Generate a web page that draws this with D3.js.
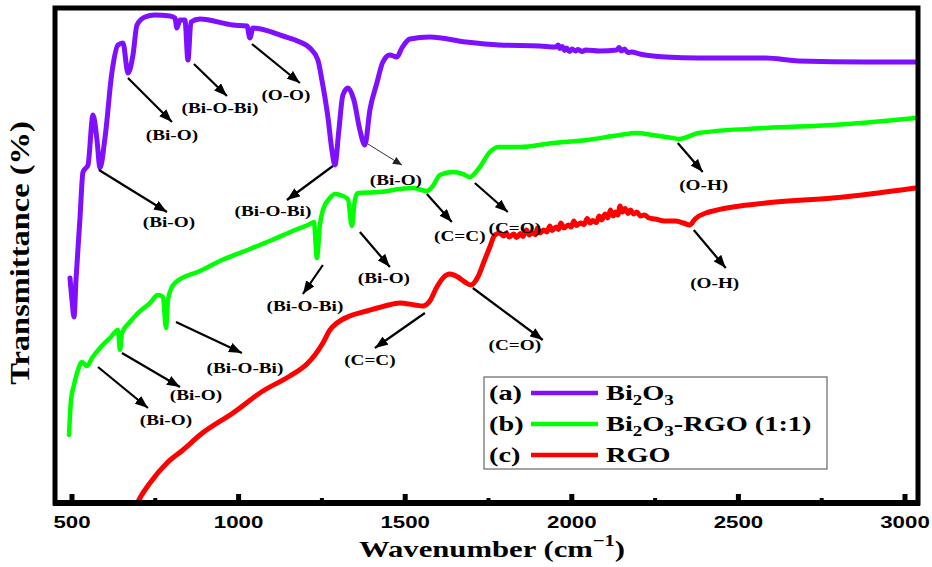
<!DOCTYPE html>
<html>
<head>
<meta charset="utf-8">
<script src="https://cdn.jsdelivr.net/npm/d3@7"></script>
<style>
  body { margin: 0; background: #fff; }
  svg { display: block; }
</style>
</head>
<body>
<svg id="chart" width="932" height="567"></svg>
<script>
// FTIR spectra: [wavenumber (cm^-1), transmittance (arb. %)]
const bi2o3 = [
  [494,45.0],[500,40.6],[506,37.2],[512,44.6],[524,57.0],[533,66.2],[548,67.6],[563,77.6],
  [575,72.6],[584,67.0],[599,73.0],[620,86.2],[638,91.6],[653,92.0],[668,86.0],[683,89.6],
  [695,95.6],[719,97.2],[749,97.6],[794,97.4],[809,97.0],[815,95.0],[824,96.6],[839,96.6],
  [848,88.6],[857,96.2],[884,96.8],[983,95.6],[1025,95.4],[1034,93.0],[1043,95.0],[1133,93.4],
  [1184,92.2],[1214,91.0],[1238,88.6],[1250,84.6],[1268,77.2],[1280,70.6],[1289,67.6],[1301,74.6],
  [1313,81.6],[1328,83.0],[1346,80.6],[1364,74.6],[1379,71.6],[1394,78.6],[1415,84.0],[1433,88.2],
  [1454,89.6],[1475,89.2],[1490,91.0],[1514,92.8],[1574,93.2],[1682,92.2],[1781,91.6],[1904,91.4],
  [1952,91.2],[1959,91.6],[1964,90.9],[1971,91.3],[1979,90.5],[1984,91.0],[1993,90.3],[2001,90.8],
  [2011,90.4],[2019,90.7],[2031,90.3],[2042,90.6],[2084,90.4],[2135,90.6],[2142,91.1],[2149,90.4],
  [2158,90.8],[2168,90.1],[2180,90.2],[2204,89.8],[2282,89.2],[2381,89.0],[2582,89.0],[2681,88.4],
  [2882,88.2],[3032,88.2]
];

const bi2o3Rgo = [
  [491,13.6],[497,20.6],[506,23.6],[518,26.6],[530,28.2],[545,27.4],[560,29.0],[584,31.0],
  [614,33.0],[638,34.6],[644,30.6],[650,34.0],[674,36.2],[698,38.0],[734,40.0],[758,41.6],
  [773,41.2],[782,35.0],[788,40.6],[800,43.2],[809,44.0],[884,46.4],[950,48.6],[1034,50.8],
  [1100,52.6],[1169,54.6],[1214,55.8],[1226,56.2],[1235,49.0],[1244,55.6],[1253,58.6],[1274,61.0],
  [1289,61.8],[1313,61.4],[1328,60.8],[1340,55.4],[1349,60.6],[1358,62.0],[1424,62.2],[1484,62.8],
  [1523,63.0],[1565,62.4],[1583,63.4],[1604,65.6],[1643,66.2],[1673,65.8],[1694,65.2],[1724,67.2],
  [1754,70.2],[1781,71.2],[1844,71.2],[1943,72.0],[2045,72.6],[2144,73.6],[2195,74.0],[2243,73.6],
  [2303,73.0],[2321,72.8],[2381,74.0],[2582,75.0],[2783,75.6],[3032,77.0]
];

const rgo = [
  [689,-1.0],[704,1.0],[734,4.0],[785,8.0],[833,10.6],[884,13.6],[983,18.0],[1073,22.4],
  [1154,25.4],[1205,27.8],[1229,29.6],[1253,32.0],[1274,34.6],[1295,36.0],[1334,37.4],[1385,38.4],
  [1439,39.4],[1484,40.0],[1529,39.6],[1553,39.4],[1574,40.4],[1595,43.2],[1616,45.2],[1634,45.8],
  [1658,45.2],[1679,44.2],[1697,43.6],[1718,45.2],[1736,48.2],[1754,51.2],[1769,53.6],[1784,54.0],
  [1796,53.4],[1803,54.0],[1812,53.2],[1826,53.8],[1834,53.1],[1846,53.9],[1853,53.3],[1864,54.6],
  [1872,53.6],[1880,54.1],[1891,53.7],[1897,55.0],[1904,54.0],[1916,54.6],[1925,54.2],[1934,55.4],
  [1941,54.5],[1953,55.2],[1960,54.7],[1967,56.0],[1976,55.0],[1990,55.6],[1998,55.2],[2006,56.4],
  [2014,55.5],[2026,56.0],[2037,55.7],[2046,56.9],[2055,56.0],[2063,56.5],[2074,56.1],[2082,57.4],
  [2090,56.6],[2100,57.8],[2108,57.0],[2116,58.6],[2124,57.4],[2131,58.2],[2138,57.6],[2145,59.4],
  [2152,58.2],[2160,58.9],[2169,57.9],[2176,58.6],[2186,57.8],[2195,58.2],[2206,57.4],[2218,57.6],
  [2232,57.0],[2250,56.8],[2279,56.4],[2310,56.4],[2335,56.0],[2354,55.6],[2370,56.8],[2402,58.0],
  [2582,60.0],[2783,61.0],[2894,61.8],[3032,63.0]
];

const seriesNames = ["Bi2O3", "Bi2O3-RGO (1:1)", "RGO"];
const seriesTags = ["(a)", "(b)", "(c)"];
const seriesColors = ["#7f10ff", "#00ff00", "#ff0000"];

const xTicks = [500, 1000, 1500, 2000, 2500, 3000];
const xMinorTicks = [750, 1250, 1750, 2250, 2750];

// Band assignments: arrow tail, arrow head and label centre in data units
const bands = [
  { text: "(Bi-O)",    tail: [668, 85.0],  head: [800, 76.2],  at: [800, 73.6] },
  { text: "(Bi-O-Bi)", tail: [866, 87.8],  head: [965, 81.4],  at: [944, 79.0] },
  { text: "(O-O)",     tail: [1040, 91.8], head: [1184, 84.0], at: [1142, 81.6] },
  { text: "(Bi-O)",    tail: [581, 66.6],  head: [785, 58.2],  at: [791, 56.2] },
  { text: "(Bi-O-Bi)", tail: [1283, 67.4], head: [1145, 60.6], at: [1103, 58.4] },
  { text: "(Bi-O)",    tail: [1388, 71.8], head: [1490, 67.6], at: [1472, 64.6], thin: true },
  { text: "(C=C)",     tail: [1565, 61.8], head: [1640, 56.2], at: [1664, 53.4] },
  { text: "(C=O)",     tail: [1709, 64.0], head: [1808, 58.2], at: [1829, 55.0] },
  { text: "(Bi-O-Bi)", tail: [1253, 47.6], head: [1193, 41.8], at: [1199, 39.4] },
  { text: "(Bi-O)",    tail: [1364, 54.2], head: [1454, 47.2], at: [1436, 45.0] },
  { text: "(Bi-O-Bi)", tail: [812, 36.2],  head: [1010, 30.0], at: [1019, 27.0] },
  { text: "(Bi-O)",    tail: [650, 30.0],  head: [824, 23.2],  at: [872, 21.6] },
  { text: "(Bi-O)",    tail: [578, 27.2],  head: [728, 19.0],  at: [782, 16.6] },
  { text: "(C=C)",     tail: [1559, 38.0], head: [1409, 31.0], at: [1394, 28.6] },
  { text: "(C=O)",     tail: [1703, 43.0], head: [1913, 32.6], at: [1829, 31.6] },
  { text: "(O-H)",     tail: [2318, 72.0], head: [2393, 66.2], at: [2396, 63.6] },
  { text: "(O-H)",     tail: [2366, 54.6], head: [2462, 47.0], at: [2429, 44.0] }
];

const SERIF = "'Liberation Serif', 'Times New Roman', Times, serif";
const SANS = "'Liberation Sans', Arial, Helvetica, sans-serif";
const STRETCH = 1.3;

const svg = d3.select("#chart");
const plot = { left: 55, right: 918, top: 8, bottom: 503 };

const x = d3.scaleLinear().domain([449, 3039]).range([plot.left, plot.right]);
const y = d3.scaleLinear().domain([0, 99]).range([plot.bottom, plot.top]);

svg.append("defs").append("clipPath").attr("id", "plot-clip")
  .append("rect")
  .attr("x", plot.left).attr("y", plot.top)
  .attr("width", plot.right - plot.left).attr("height", plot.bottom - plot.top);

const defs = svg.select("defs");
defs.append("marker")
  .attr("id", "head").attr("markerUnits", "userSpaceOnUse")
  .attr("markerWidth", 14).attr("markerHeight", 10)
  .attr("refX", 13).attr("refY", 5).attr("orient", "auto")
  .append("path").attr("d", "M0,0 L13,5 L0,10 Z").attr("fill", "#000");
defs.append("marker")
  .attr("id", "head-thin").attr("markerUnits", "userSpaceOnUse")
  .attr("markerWidth", 10).attr("markerHeight", 8)
  .attr("refX", 9).attr("refY", 4).attr("orient", "auto")
  .append("path").attr("d", "M0,0 L9,4 L0,8 Z").attr("fill", "#222");

// horizontally widened text, like the original figure's typography
function wideText(parent, px, py, size, family, anchor, sx) {
  const g = parent.append("g")
    .attr("transform", `translate(${px},${py}) scale(${sx || STRETCH},1)`);
  return g.append("text")
    .attr("text-anchor", anchor || "middle")
    .attr("font-family", family)
    .attr("font-weight", "bold")
    .attr("font-size", size)
    .attr("fill", "#000");
}

// spectra
const line = d3.line()
  .x(d => x(d[0]))
  .y(d => y(d[1]))
  .curve(d3.curveMonotoneX);

const spectra = [bi2o3, bi2o3Rgo, rgo];
const lineWidths = [5, 4.5, 5];
const curves = svg.append("g").attr("clip-path", "url(#plot-clip)");
[2, 1, 0].forEach(i => {
  curves.append("path")
    .datum(spectra[i])
    .attr("d", line)
    .attr("fill", "none")
    .attr("stroke", seriesColors[i])
    .attr("stroke-width", lineWidths[i])
    .attr("stroke-linejoin", "round")
    .attr("stroke-linecap", "round");
});

// band arrows and labels
const notes = svg.append("g");
bands.forEach(b => {
  notes.append("line")
    .attr("x1", x(b.tail[0])).attr("y1", y(b.tail[1]))
    .attr("x2", x(b.head[0])).attr("y2", y(b.head[1]))
    .attr("stroke", b.thin ? "#333" : "#000")
    .attr("stroke-width", b.thin ? 1 : 2.2)
    .attr("marker-end", b.thin ? "url(#head-thin)" : "url(#head)");
  wideText(notes, x(b.at[0]), y(b.at[1]), 15, SERIF, "middle", 1.28)
    .attr("dy", "0.35em")
    .text(b.text);
});

// frame
svg.append("rect")
  .attr("x", plot.left).attr("y", plot.top)
  .attr("width", plot.right - plot.left).attr("height", plot.bottom - plot.top)
  .attr("fill", "none").attr("stroke", "#000").attr("stroke-width", 5);
svg.append("line")
  .attr("x1", plot.left - 2).attr("x2", plot.right + 2)
  .attr("y1", plot.bottom).attr("y2", plot.bottom)
  .attr("stroke", "#000").attr("stroke-width", 6);

// x axis ticks (inward) and labels
const axisG = svg.append("g");
xTicks.forEach(t => {
  axisG.append("rect")
    .attr("x", x(t) - 2.5).attr("y", plot.bottom - 9)
    .attr("width", 5).attr("height", 9).attr("fill", "#000");
  wideText(axisG, x(t), 528, 16.5, SANS, "middle", 1.35).text(t);
});
xMinorTicks.forEach(t => {
  axisG.append("rect")
    .attr("x", x(t) - 2).attr("y", plot.bottom - 5)
    .attr("width", 4).attr("height", 5).attr("fill", "#000");
});

// axis titles
const xt = wideText(svg, 492, 557, 24, SERIF, "middle", 1.28);
xt.append("tspan").text("Wavenumber (cm");
xt.append("tspan").attr("font-size", 16).attr("dy", -11).text("\u22121");
xt.append("tspan").attr("dy", 11).text(")");

svg.append("g")
  .attr("transform", "translate(29,253) rotate(-90) scale(1.16,1)")
  .append("text")
  .attr("text-anchor", "middle")
  .attr("font-family", SERIF).attr("font-weight", "bold").attr("font-size", 28)
  .text("Transmittance (%)");

// legend
const legend = svg.append("g");
legend.append("rect")
  .attr("x", 484).attr("y", 377).attr("width", 343).attr("height", 92)
  .attr("fill", "#fff").attr("stroke", "#666").attr("stroke-width", 1.2);

const rowY = [393, 424, 455];
seriesNames.forEach((name, i) => {
  wideText(legend, 489, rowY[i] + 7, 21, SERIF, "start", 1.35).text(seriesTags[i]);
  legend.append("line")
    .attr("x1", 531).attr("x2", 598)
    .attr("y1", rowY[i]).attr("y2", rowY[i])
    .attr("stroke", seriesColors[i]).attr("stroke-width", 4.5);
  const t = wideText(legend, 606, rowY[i] + 7, 21, SERIF, "start", 1.35);
  if (name.startsWith("Bi2O3")) {
    t.append("tspan").text("Bi");
    t.append("tspan").attr("font-size", 14).attr("dy", 5).text("2");
    t.append("tspan").attr("dy", -5).text("O");
    t.append("tspan").attr("font-size", 14).attr("dy", 5).text("3");
    const rest = name.slice(5);
    if (rest) t.append("tspan").attr("dy", -5).text(rest);
  } else {
    t.text(name);
  }
});
</script>
</body>
</html>
